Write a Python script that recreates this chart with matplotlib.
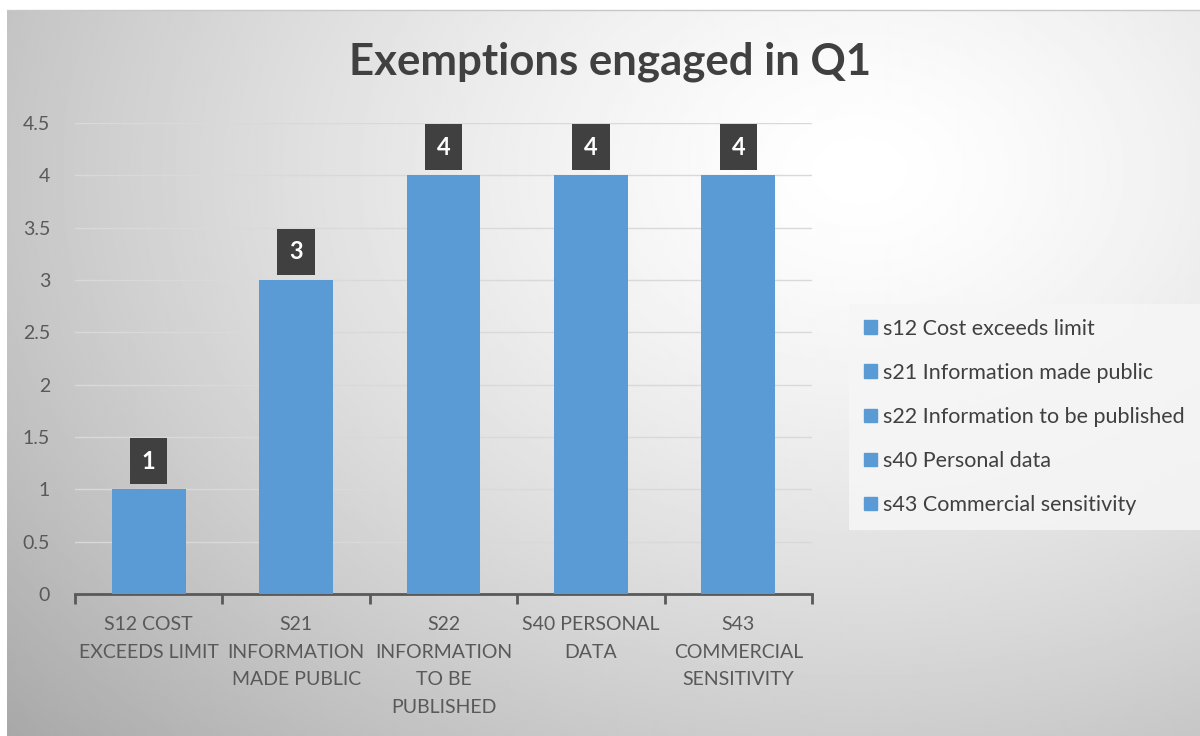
"""Exemptions engaged in Q1 - bar chart with data-label boxes."""
import numpy as np
import matplotlib
matplotlib.use("Agg")
import matplotlib.pyplot as plt
from matplotlib.patches import Patch
import matplotlib.patheffects as pe

categories = ["S12 COST\nEXCEEDS LIMIT", "S21\nINFORMATION\nMADE PUBLIC",
              "S22\nINFORMATION\nTO BE\nPUBLISHED", "S40 PERSONAL\nDATA",
              "S43\nCOMMERCIAL\nSENSITIVITY"]
values = [1, 3, 4, 4, 4]
legend_labels = ["s12 Cost exceeds limit", "s21 Information made public",
                 "s22 Information to be published", "s40 Personal data",
                 "s43 Commercial sensitivity"]
yticks = [0, 0.5, 1, 1.5, 2, 2.5, 3, 3.5, 4, 4.5]
ytick_labels = ["0", "0.5", "1", "1.5", "2", "2.5", "3", "3.5", "4", "4.5"]

BLUE = "#5b9bd5"
W, H = 1200, 736
plt.rcParams["font.family"] = ["Lato", "DejaVu Sans"]

fig = plt.figure(figsize=(12, 7.36), dpi=100)
fig.patch.set_facecolor("white")

# ---- gray gradient chart background ----
bg = fig.add_axes([7 / W, 0, 1 - 7 / W, (H - 10) / H], zorder=-10)
yy, xx = np.mgrid[10:H:2, 7:W:2]
d = np.sqrt(((xx - 860) / 900.0) ** 2 + ((yy - 170) / 650.0) ** 2)
shade = 1 - 0.24 * np.clip(d, 0, 1.3) ** 1.4
bg.imshow(shade, cmap="gray", vmin=0, vmax=1, aspect="auto",
          extent=[0, 1, 0, 1], interpolation="bilinear")
bg.set_axis_off()
fig.add_artist(plt.Line2D([7 / W, 1], [(H - 10) / H] * 2, color="#c8c8c8", lw=1))

# ---- main axes ----
ax = fig.add_axes([75 / W, 142 / H, 737 / W, 471 / H])
ax.set_facecolor("none")
x = np.arange(len(values))
bars = ax.bar(x, values, width=0.5, color=BLUE, zorder=3)
for b in bars:
    b.set_path_effects([pe.SimplePatchShadow(offset=(0, 0), shadow_rgbFace="#000000", alpha=0.06),
                        pe.Normal()])

ax.set_xlim(-0.5, len(values) - 0.5)
ax.set_ylim(0, 4.5)
ax.set_yticks(yticks)
ax.set_yticklabels(ytick_labels)
ax.yaxis.grid(True, color="#d9d9d9", lw=1, zorder=0)
ax.tick_params(axis="y", length=0, labelsize=14, labelcolor="#595959", pad=18)

ax.set_xticks(x)
ax.set_xticklabels(categories, fontsize=14, color="#595959", linespacing=1.75)
ax.set_xticks(np.arange(-0.5, len(values)), minor=True)
ax.tick_params(axis="x", which="major", length=0, pad=16)
ax.tick_params(axis="x", which="minor", length=7, width=2, color="#595959", direction="out")
for s in ["top", "right", "left"]:
    ax.spines[s].set_visible(False)
ax.spines["bottom"].set_color("#595959")
ax.spines["bottom"].set_linewidth(2)

for xi, v in zip(x, values):
    ax.annotate(str(v), xy=(xi, v), xytext=(0, 12), textcoords="offset points",
                ha="center", va="bottom", fontsize=17, fontweight="bold", color="white",
                bbox=dict(boxstyle="square,pad=0.5", fc="#404040", ec="none"), zorder=5)

fig.text(610 / W, 1 - 62 / H, "Exemptions engaged in Q1", ha="center", va="center",
         fontsize=31.5, fontweight="bold", color="#404040")

handles = [Patch(color=BLUE) for _ in legend_labels]
leg = fig.legend(handles, legend_labels, loc="center left",
                 bbox_to_anchor=(838 / W, 1 - 417 / H), fontsize=15.5,
                 labelcolor="#404040", frameon=True, fancybox=False,
                 handlelength=0.6, handleheight=0.6, handletextpad=0.3,
                 labelspacing=1.12, borderpad=0.7)
leg.get_frame().set_facecolor("#f6f6f6")
leg.get_frame().set_edgecolor("none")
leg.get_frame().set_alpha(0.85)

fig.savefig("out.png", dpi=100)
